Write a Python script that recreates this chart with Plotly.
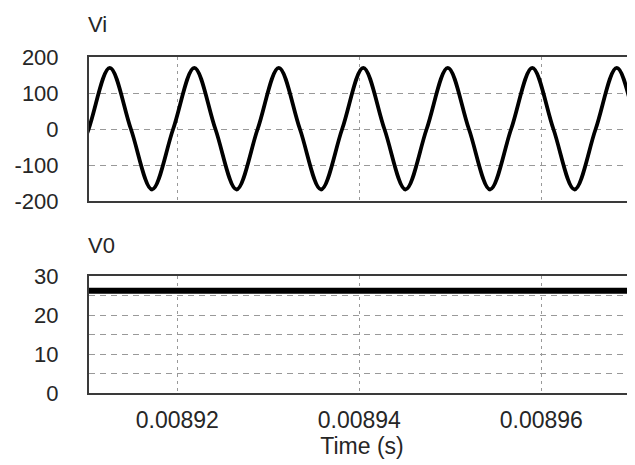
import plotly.graph_objects as go

# Vi waveform: quarter-cycle points (time in s, volts)
vi_time = [0.008907940, 0.008910261, 0.008912583, 0.008914904, 0.008917226,
           0.008919547, 0.008921869, 0.008924190, 0.008926511, 0.008928833,
           0.008931154, 0.008933476, 0.008935797, 0.008938119, 0.008940440,
           0.008942761, 0.008945083, 0.008947404, 0.008949726, 0.008952047,
           0.008954369, 0.008956690, 0.008959011, 0.008961333, 0.008963654,
           0.008965976, 0.008968297, 0.008970619, 0.008972940]
vi_value = [-168, 0, 170, 0, -168, 0, 170, 0, -168, 0, 170, 0, -168, 0, 170,
            0, -168, 0, 170, 0, -168, 0, 170, 0, -168, 0, 170, 0, -168]

# V0 output: nearly constant DC level
v0_time = [0.008905, 0.008920, 0.008940, 0.008960, 0.008975]
v0_value = [26.2, 26.2, 26.2, 26.2, 26.2]

x_ticks = [0.00892, 0.00894, 0.00896]
x_tick_text = ["0.00892", "0.00894", "0.00896"]
vi_ticks = [-200, -100, 0, 100, 200]
vi_tick_text = ["-200", "-100", "0", "100", "200"]
v0_ticks = [0, 10, 20, 30]

x_range = [0.0089103, 0.0089703]

FONT = "Liberation Sans, Arial, sans-serif"
TXT = "#262626"
AXC = "#3a3a3a"
GRID = "#999999"

fig = go.Figure()
fig.add_trace(go.Scatter(x=vi_time, y=vi_value, mode="lines",
                         line=dict(color="black", width=3.8, shape="spline", smoothing=1.0),
                         xaxis="x", yaxis="y", showlegend=False, hoverinfo="skip"))
fig.add_trace(go.Scatter(x=v0_time, y=v0_value, mode="lines",
                         line=dict(color="black", width=6),
                         xaxis="x2", yaxis="y2", showlegend=False, hoverinfo="skip"))

W, H = 627, 457   # page body adds an 8px offset
top_dom = [1 - 193 / H, 1 - 49 / H]
bot_dom = [1 - 385 / H, 1 - 268 / H]

common_x = dict(range=x_range, tickvals=x_ticks, showgrid=True, gridcolor=GRID,
                griddash="3px,4px", gridwidth=1.3, showline=True, linecolor=AXC,
                linewidth=2, mirror=True, zeroline=False, ticks="",
                automargin=False, fixedrange=True)

ygrid = dict(showgrid=True, gridcolor=GRID, griddash="6px,5px", gridwidth=1.3,
             showline=True, linecolor=AXC, linewidth=2, mirror=False,
             zeroline=False, ticks="", tickfont=dict(size=22, color=TXT),
             ticklabelstandoff=24, automargin=False, fixedrange=True)

fig.update_layout(
    width=W, height=H,
    margin=dict(l=81, r=0, t=0, b=0),
    paper_bgcolor="white", plot_bgcolor="white",
    font=dict(family=FONT, color=TXT),
    xaxis=dict(domain=[0, 1], anchor="y", showticklabels=False, **common_x),
    xaxis2=dict(domain=[0, 1], anchor="y2", matches="x", ticktext=x_tick_text,
                showticklabels=True, tickfont=dict(size=23, color=TXT),
                ticklabelstandoff=5,
                title=dict(text="Time (s)", font=dict(size=23, color=TXT), standoff=4),
                **common_x),
    yaxis=dict(domain=top_dom, anchor="x", range=[-200, 200], tickvals=vi_ticks,
               ticktext=vi_tick_text, **ygrid),
    yaxis2=dict(domain=bot_dom, anchor="x2", range=[0, 30], tickvals=v0_ticks,
                minor=dict(dtick=5, showgrid=True, gridcolor=GRID, griddash="6px,5px", gridwidth=1.3),
                **ygrid),
    annotations=[
        dict(text="Vi", x=0, y=top_dom[1], xref="paper", yref="paper",
             xanchor="left", yanchor="bottom", yshift=18, xshift=-3, showarrow=False,
             font=dict(size=22, color=TXT, family=FONT)),
        dict(text="V0", x=0, y=bot_dom[1], xref="paper", yref="paper",
             xanchor="left", yanchor="bottom", yshift=16, xshift=-3, showarrow=False,
             font=dict(size=22, color=TXT, family=FONT)),
    ],
)

fig.write_html("out.html")
